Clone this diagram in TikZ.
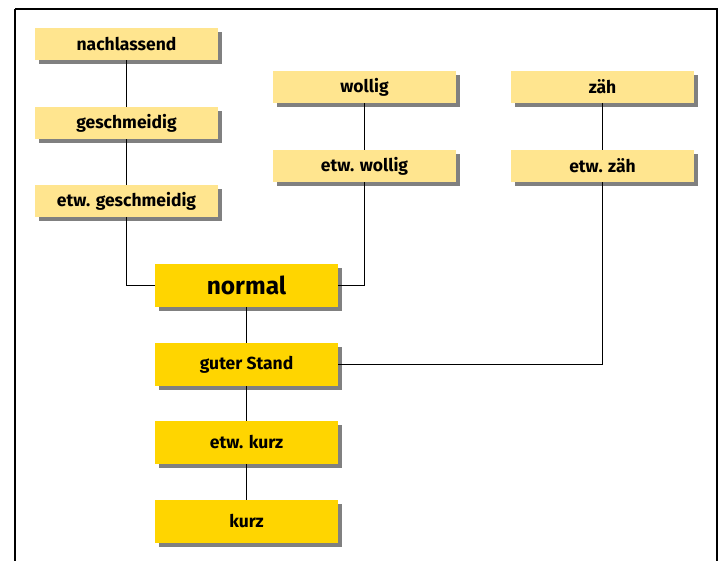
\documentclass[tikz,border=0pt]{standalone}
\usepackage{fontspec}
\setmainfont{Fira Sans}
\usetikzlibrary{shadows}
\definecolor{lightY}{HTML}{FFE58F}
\definecolor{darkY}{HTML}{FFD500}
\definecolor{shad}{HTML}{808080}
\begin{document}
\begin{tikzpicture}[x=1pt,y=-1pt,
  lbox/.style={fill=lightY, minimum width=183pt, minimum height=32pt, inner sep=0pt,
    font=\bfseries\fontsize{17.5}{19}\selectfont,
    drop shadow={shadow xshift=4pt, shadow yshift=-4pt, fill=shad, opacity=1}},
  dbox/.style={fill=darkY, minimum width=183pt, minimum height=43pt, inner sep=0pt,
    font=\bfseries\fontsize{17.5}{19}\selectfont,
    drop shadow={shadow xshift=4pt, shadow yshift=-4pt, fill=shad, opacity=1}},
  conn/.style={line width=0.9pt, black}]
\useasboundingbox (0,0) rectangle (723,561);
\fill[white] (0,0) rectangle (723,561);
\draw[line width=1.5pt] (15,9) -- (717,9) -- (717,570);
\draw[line width=1.5pt] (15,9) -- (15,570);
% light boxes
\node[lbox] (nach) at (126.5,44) {nachlassend};
\node[lbox] (gesch) at (126.5,123) {geschmeidig};
\node[lbox] (etwg) at (126.5,201) {etw. geschmeidig};
\node[lbox] (woll) at (364.5,87) {wollig};
\node[lbox] (etwwo) at (364.5,166) {etw. wollig};
\node[lbox] (zah) at (602.5,87) {zäh};
\node[lbox] (etwz) at (602.5,166) {etw. zäh};
% dark boxes
\node[dbox, font=\bfseries\fontsize{24.5}{26}\selectfont] (norm) at (246.5,285.5) {normal};
\node[dbox] (gut) at (246.5,364.5) {guter Stand};
\node[dbox] (etwk) at (246.5,442.5) {etw. kurz};
\node[dbox] (kurz) at (246.5,521.5) {kurz};
% connectors
\draw[conn] (nach) -- (gesch);
\draw[conn] (gesch) -- (etwg);
\draw[conn] (woll) -- (etwwo);
\draw[conn] (zah) -- (etwz);
\draw[conn] (etwg.south) |- (norm.west);
\draw[conn] (etwwo.south) |- (norm.east);
\draw[conn] (etwz.south) |- (gut.east);
\draw[conn] (norm) -- (gut);
\draw[conn] (gut) -- (etwk);
\draw[conn] (etwk) -- (kurz);
\end{tikzpicture}
\end{document}
